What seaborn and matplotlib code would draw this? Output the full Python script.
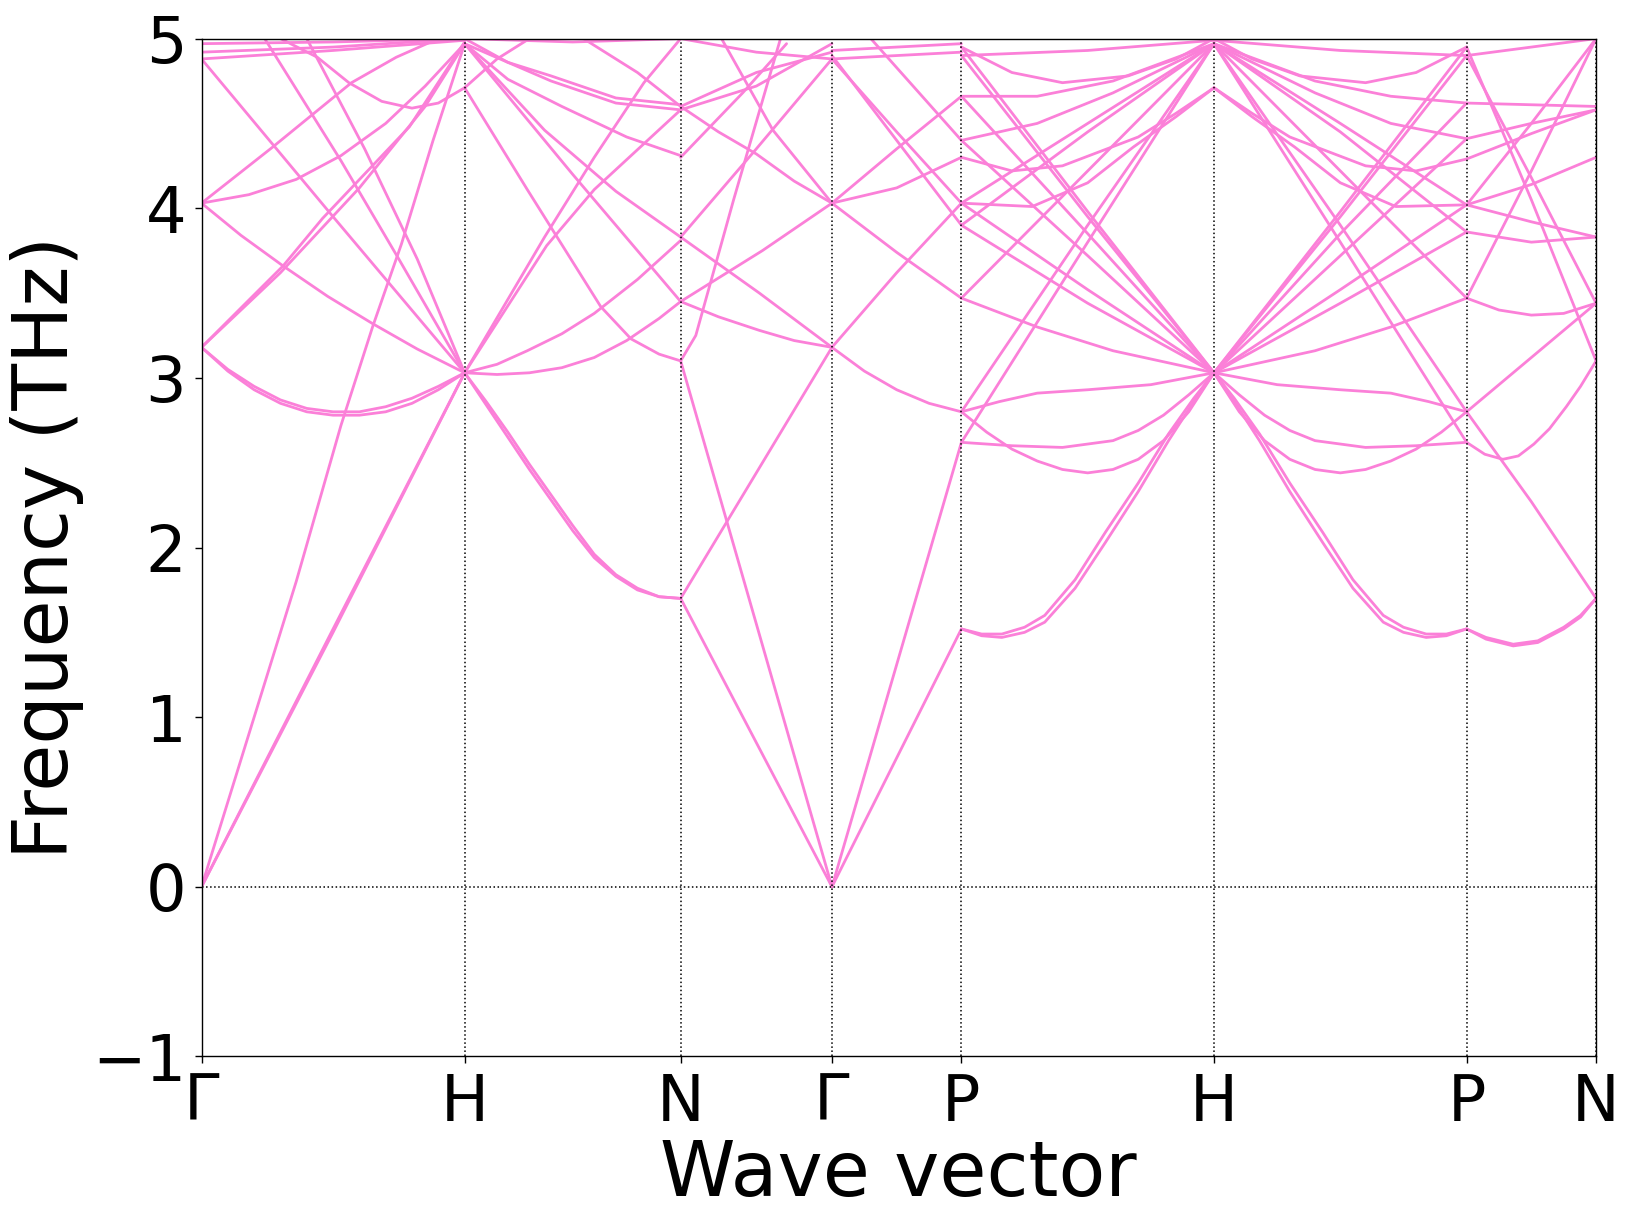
import numpy as np
import pandas as pd
import matplotlib
matplotlib.use("Agg")
import matplotlib.pyplot as plt
import seaborn as sns

# ------------------------------------------------------------------
# Band path and values
# ------------------------------------------------------------------
PINK = "#fb80d8"

sym_labels = ["Γ", "H", "N", "Γ", "P", "H", "P", "N"]
seg_lengths = [1.0, 0.821, 0.575, 0.492, 0.960, 0.960, 0.492]

# each band: (fraction along segment, frequency in THz)
seg_GH = [
    ([0, 0.5, 1], [0, 1.52, 3.03]),
    ([0, 0.5, 1], [0, 1.50, 3.03]),
    ([0, 0.18, 0.36, 0.53, 0.65, 0.76, 0.88, 1], [0, 0.90, 1.80, 2.72, 3.30, 3.79, 4.40, 4.97]),
    ([0, 0.1, 0.2, 0.3, 0.4, 0.5, 0.6, 0.7, 0.8, 0.9, 1],
     [3.18, 3.05, 2.95, 2.87, 2.82, 2.80, 2.80, 2.83, 2.88, 2.95, 3.03]),
    ([0, 0.1, 0.2, 0.3, 0.4, 0.5, 0.6, 0.7, 0.8, 0.9, 1],
     [3.18, 3.04, 2.93, 2.85, 2.80, 2.78, 2.78, 2.80, 2.85, 2.93, 3.03]),
    ([0, 0.31, 0.46, 0.79, 1], [3.18, 3.66, 3.94, 4.48, 4.98]),
    ([0, 0.3, 0.6, 0.85, 1], [3.18, 3.62, 4.12, 4.60, 4.97]),
    ([0, 0.15, 0.31, 0.48, 0.65, 0.82, 1], [4.03, 3.84, 3.66, 3.48, 3.32, 3.17, 3.03]),
    ([0, 0.5, 1], [4.88, 3.95, 3.03]),
    ([0.24, 0.53, 0.75, 1], [5.0, 4.28, 3.70, 3.03]),
    ([0.40, 0.62, 0.82, 1], [5.0, 4.35, 3.70, 3.03]),
    ([0, 0.27, 0.57, 0.74, 0.9], [4.03, 4.36, 4.74, 4.89, 5.0]),
    ([0, 0.18, 0.36, 0.53, 0.7, 0.85, 1], [4.03, 4.08, 4.17, 4.31, 4.50, 4.72, 4.97]),
    ([0.3, 0.44, 0.56, 0.685, 0.8, 0.9, 1], [5.0, 4.89, 4.74, 4.63, 4.59, 4.62, 4.71]),
    ([0, 0.5, 1], [4.88, 4.93, 4.99]),
    ([0, 0.5, 1], [4.92, 4.95, 5.0]),
    ([0, 0.5, 1], [4.97, 4.98, 5.0]),
]

seg_HN = [
    ([0, 0.1, 0.2, 0.3, 0.4, 0.5, 0.6, 0.7, 0.8, 0.9, 1],
     [3.03, 2.86, 2.68, 2.49, 2.31, 2.13, 1.96, 1.84, 1.76, 1.71, 1.70]),
    ([0, 0.1, 0.2, 0.3, 0.4, 0.5, 0.6, 0.7, 0.8, 0.9, 1],
     [3.03, 2.84, 2.65, 2.46, 2.28, 2.10, 1.94, 1.83, 1.75, 1.71, 1.70]),
    ([0, 0.15, 0.3, 0.45, 0.6, 0.75, 0.9, 1], [3.03, 3.02, 3.03, 3.06, 3.12, 3.22, 3.35, 3.45]),
    ([0, 0.15, 0.29, 0.45, 0.6, 0.8, 1], [3.03, 3.08, 3.16, 3.26, 3.38, 3.58, 3.81]),
    ([0, 0.37, 0.6, 0.83, 1], [3.03, 3.83, 4.30, 4.74, 5.0]),
    ([0, 0.38, 0.6, 1], [3.03, 3.78, 4.11, 4.58]),
    ([0, 0.29, 0.63, 0.77, 0.9, 1], [4.71, 4.11, 3.42, 3.23, 3.14, 3.10]),
    ([0, 0.37, 0.7, 1], [4.97, 4.46, 4.10, 3.83]),
    ([0, 0.2, 0.45, 0.75, 1], [4.97, 4.76, 4.60, 4.42, 4.31]),
    ([0, 0.2, 0.4, 0.7, 1], [4.97, 4.86, 4.78, 4.65, 4.61]),
    ([0, 0.2, 0.4, 0.7, 1], [5.0, 4.86, 4.75, 4.62, 4.58]),
    ([0, 0.5, 1], [4.97, 4.20, 3.45]),
    ([0, 0.15, 0.3], [4.71, 4.88, 5.0]),
    ([0.55, 0.8, 1], [5.0, 4.80, 4.60]),
    ([0, 0.5, 1], [5.0, 4.98, 5.0]),
]

seg_NG = [
    ([0, 1], [1.70, 0]),
    ([0, 1], [1.70, 3.18]),
    ([0, 1], [3.10, 0]),
    ([0, 0.1, 0.35, 0.66], [3.10, 3.25, 4.05, 5.0]),
    ([0, 0.25, 0.52, 0.75, 1], [3.45, 3.36, 3.28, 3.22, 3.18]),
    ([0, 0.54, 1], [3.45, 3.75, 4.03]),
    ([0, 0.52, 1], [3.83, 3.50, 3.18]),
    ([0, 0.5, 1], [3.83, 4.35, 4.88]),
    ([0, 0.41, 0.7], [4.30, 4.68, 4.97]),
    ([0, 0.25, 0.5, 0.75, 1], [4.60, 4.45, 4.32, 4.16, 4.03]),
    ([0, 0.5, 1], [4.60, 4.80, 4.92]),
    ([0.27, 0.61, 1], [5.0, 4.46, 4.03]),
    ([0, 0.5, 1], [5.0, 4.92, 4.88]),
    ([0, 0.5, 1], [4.58, 4.72, 4.97]),
]

seg_GP = [
    ([0, 1], [0, 1.52]),
    ([0, 1], [0, 2.62]),
    ([0, 0.25, 0.5, 0.75, 1], [3.18, 3.04, 2.93, 2.85, 2.80]),
    ([0, 0.5, 1], [3.18, 3.62, 4.03]),
    ([0, 0.5, 1], [4.03, 4.35, 4.66]),
    ([0, 0.5, 1], [4.03, 4.12, 4.30]),
    ([0, 0.5, 1], [4.03, 3.74, 3.47]),
    ([0, 0.5, 1], [4.88, 4.45, 4.03]),
    ([0, 0.5, 1], [4.90, 4.40, 3.90]),
    ([0, 0.5, 1], [4.88, 4.90, 4.92]),
    ([0, 0.5, 1], [4.93, 4.95, 4.97]),
    ([0.3, 1], [5.0, 4.40]),
]

seg_PH = [
    ([0, 0.08, 0.16, 0.25, 0.33, 0.45, 0.57, 0.7, 0.82, 0.92, 1],
     [1.52, 1.49, 1.49, 1.53, 1.60, 1.81, 2.09, 2.38, 2.67, 2.88, 3.03]),
    ([0, 0.08, 0.16, 0.25, 0.33, 0.45, 0.57, 0.7, 0.82, 0.92, 1],
     [1.52, 1.48, 1.47, 1.50, 1.56, 1.76, 2.03, 2.33, 2.63, 2.86, 3.03]),
    ([0, 0.1, 0.2, 0.3, 0.4, 0.5, 0.6, 0.7, 0.8, 0.9, 1],
     [2.80, 2.68, 2.58, 2.51, 2.46, 2.44, 2.46, 2.52, 2.63, 2.80, 3.03]),
    ([0, 0.2, 0.4, 0.6, 0.7, 0.8, 0.9, 1], [2.62, 2.60, 2.59, 2.63, 2.69, 2.78, 2.90, 3.03]),
    ([0, 0.15, 0.3, 0.5, 0.75, 1], [2.80, 2.86, 2.91, 2.93, 2.96, 3.03]),
    ([0, 0.5, 1], [2.62, 3.80, 4.97]),
    ([0, 0.5, 1], [2.80, 3.90, 4.97]),
    ([0, 0.3, 0.6, 1], [3.47, 3.30, 3.16, 3.03]),
    ([0, 0.5, 1], [4.03, 3.52, 3.03]),
    ([0, 0.5, 1], [3.90, 3.44, 3.03]),
    ([0, 0.5, 1], [4.66, 3.85, 3.03]),
    ([0, 0.5, 1], [4.40, 3.72, 3.03]),
    ([0, 0.5, 1], [4.90, 3.95, 3.03]),
    ([0, 0.5, 1], [4.95, 3.98, 3.03]),
    ([0, 0.28, 0.5, 0.68, 0.85, 1], [4.03, 4.01, 4.15, 4.36, 4.54, 4.71]),
    ([0, 0.2, 0.4, 0.7, 0.85, 1], [4.30, 4.22, 4.25, 4.42, 4.56, 4.71]),
    ([0, 0.5, 1], [3.47, 4.22, 4.97]),
    ([0, 0.5, 1], [3.90, 4.45, 4.97]),
    ([0, 0.5, 1], [4.03, 4.50, 4.97]),
    ([0, 0.3, 0.6, 1], [4.40, 4.50, 4.68, 4.97]),
    ([0, 0.3, 0.6, 1], [4.66, 4.66, 4.75, 4.97]),
    ([0, 0.2, 0.4, 0.66, 0.85, 1], [4.95, 4.80, 4.74, 4.78, 4.88, 5.0]),
    ([0, 0.5, 1], [4.90, 4.93, 4.99]),
]

seg_HP = [
    ([0, 0.08, 0.18, 0.3, 0.43, 0.55, 0.67, 0.75, 0.84, 0.92, 1],
     [3.03, 2.88, 2.67, 2.38, 2.09, 1.81, 1.60, 1.53, 1.49, 1.49, 1.52]),
    ([0, 0.08, 0.18, 0.3, 0.43, 0.55, 0.67, 0.75, 0.84, 0.92, 1],
     [3.03, 2.86, 2.63, 2.33, 2.03, 1.76, 1.56, 1.50, 1.47, 1.48, 1.52]),
    ([0, 0.1, 0.2, 0.3, 0.4, 0.5, 0.6, 0.7, 0.8, 0.9, 1],
     [3.03, 2.80, 2.63, 2.52, 2.46, 2.44, 2.46, 2.51, 2.58, 2.68, 2.80]),
    ([0, 0.1, 0.2, 0.3, 0.4, 0.6, 0.8, 1], [3.03, 2.90, 2.78, 2.69, 2.63, 2.59, 2.60, 2.62]),
    ([0, 0.25, 0.5, 0.7, 0.85, 1], [3.03, 2.96, 2.93, 2.91, 2.86, 2.80]),
    ([0, 0.5, 1], [4.97, 3.80, 2.62]),
    ([0, 0.5, 1], [4.97, 3.90, 2.80]),
    ([0, 0.4, 0.7, 1], [3.03, 3.16, 3.30, 3.47]),
    ([0, 0.5, 1], [3.03, 3.52, 4.02]),
    ([0, 0.5, 1], [3.03, 3.44, 3.86]),
    ([0, 0.5, 1], [3.03, 3.72, 4.41]),
    ([0, 0.5, 1], [3.03, 3.85, 4.62]),
    ([0, 0.5, 1], [3.03, 3.95, 4.90]),
    ([0, 0.5, 1], [3.03, 3.98, 4.95]),
    ([0, 0.15, 0.32, 0.5, 0.72, 1], [4.71, 4.54, 4.36, 4.15, 4.01, 4.02]),
    ([0, 0.15, 0.3, 0.6, 0.8, 1], [4.71, 4.56, 4.42, 4.25, 4.22, 4.29]),
    ([0, 0.5, 1], [4.97, 4.22, 3.47]),
    ([0, 0.5, 1], [4.97, 4.45, 3.86]),
    ([0, 0.5, 1], [4.97, 4.50, 4.02]),
    ([0, 0.4, 0.7, 1], [4.97, 4.68, 4.50, 4.41]),
    ([0, 0.4, 0.7, 1], [4.97, 4.75, 4.66, 4.62]),
    ([0, 0.15, 0.34, 0.6, 0.8, 1], [5.0, 4.88, 4.78, 4.74, 4.80, 4.95]),
    ([0, 0.5, 1], [4.99, 4.93, 4.90]),
]

seg_PN = [
    ([0, 0.15, 0.36, 0.55, 0.75, 0.88, 1], [1.52, 1.47, 1.43, 1.45, 1.53, 1.60, 1.70]),
    ([0, 0.15, 0.36, 0.55, 0.75, 0.88, 1], [1.52, 1.46, 1.42, 1.44, 1.52, 1.59, 1.70]),
    ([0, 0.5, 1], [2.80, 2.27, 1.70]),
    ([0, 0.14, 0.28, 0.4, 0.52, 0.64, 0.77, 0.88, 1], [2.62, 2.55, 2.52, 2.54, 2.61, 2.70, 2.83, 2.95, 3.10]),
    ([0, 0.5, 1], [2.80, 3.12, 3.44]),
    ([0, 0.25, 0.5, 0.75, 1], [3.47, 3.40, 3.37, 3.38, 3.44]),
    ([0, 0.5, 1], [3.86, 3.80, 3.83]),
    ([0, 0.5, 1], [4.02, 4.14, 4.30]),
    ([0, 0.5, 1], [4.02, 3.92, 3.83]),
    ([0, 0.5, 1], [4.29, 4.44, 4.58]),
    ([0, 0.5, 1], [4.41, 4.50, 4.58]),
    ([0, 0.5, 1], [4.62, 4.61, 4.60]),
    ([0, 0.5, 1], [4.90, 4.18, 3.44]),
    ([0, 0.5, 1], [4.95, 4.05, 3.10]),
    ([0, 0.5, 1], [3.47, 4.22, 5.0]),
    ([0, 0.5, 1], [4.02, 4.50, 5.0]),
    ([0, 0.5, 1], [4.90, 4.95, 5.0]),
]

segments = [seg_GH, seg_HN, seg_NG, seg_GP, seg_PH, seg_HP, seg_PN]

# ------------------------------------------------------------------
# Long-form table for seaborn
# ------------------------------------------------------------------
sym_pos = np.concatenate([[0], np.cumsum(seg_lengths)])
rows = []
band_id = 0
for s, bands in enumerate(segments):
    for fracs, freqs in bands:
        for fr, f in zip(fracs, freqs):
            rows.append({"q": sym_pos[s] + fr * seg_lengths[s], "freq": f, "band": band_id})
        band_id += 1
df = pd.DataFrame(rows)

# ------------------------------------------------------------------
# Plot
# ------------------------------------------------------------------
sns.set_style("ticks")
plt.rcParams["font.family"] = ["DejaVu Sans"]
plt.rcParams.update({"text.color": "black", "axes.labelcolor": "black",
                     "xtick.color": "black", "ytick.color": "black"})

fig = plt.figure(figsize=(16.37, 12.29), dpi=100)
ax = fig.add_axes([0.1231, 0.1404, 0.8519, 0.8282])

sns.lineplot(data=df, x="q", y="freq", units="band", estimator=None, sort=False,
             color=PINK, lw=2.0, legend=False, ax=ax)

for x in sym_pos:
    ax.axvline(x, color="black", ls=":", lw=1.1, zorder=3)
ax.axhline(0, color="black", ls=":", lw=1.1, zorder=3)

ax.set_xlim(sym_pos[0], sym_pos[-1])
ax.set_ylim(-1, 5)
ax.set_xticks(sym_pos)
ax.set_xticklabels(sym_labels)
ax.set_yticks(range(-1, 6))
ax.tick_params(axis="both", labelsize=46, length=5, width=1, pad=6,
               direction="out", colors="black")

for sp in ax.spines.values():
    sp.set_visible(True)
    sp.set_linewidth(1.0)
    sp.set_color("black")

ax.set_xlabel("Wave vector", fontsize=55, color="black")
ax.set_ylabel("Frequency (THz)", fontsize=55, color="black")
ax.xaxis.set_label_coords(0.5, -0.08)
ax.yaxis.set_label_coords(-0.084, 0.5)

fig.savefig("out.png", dpi=100)
